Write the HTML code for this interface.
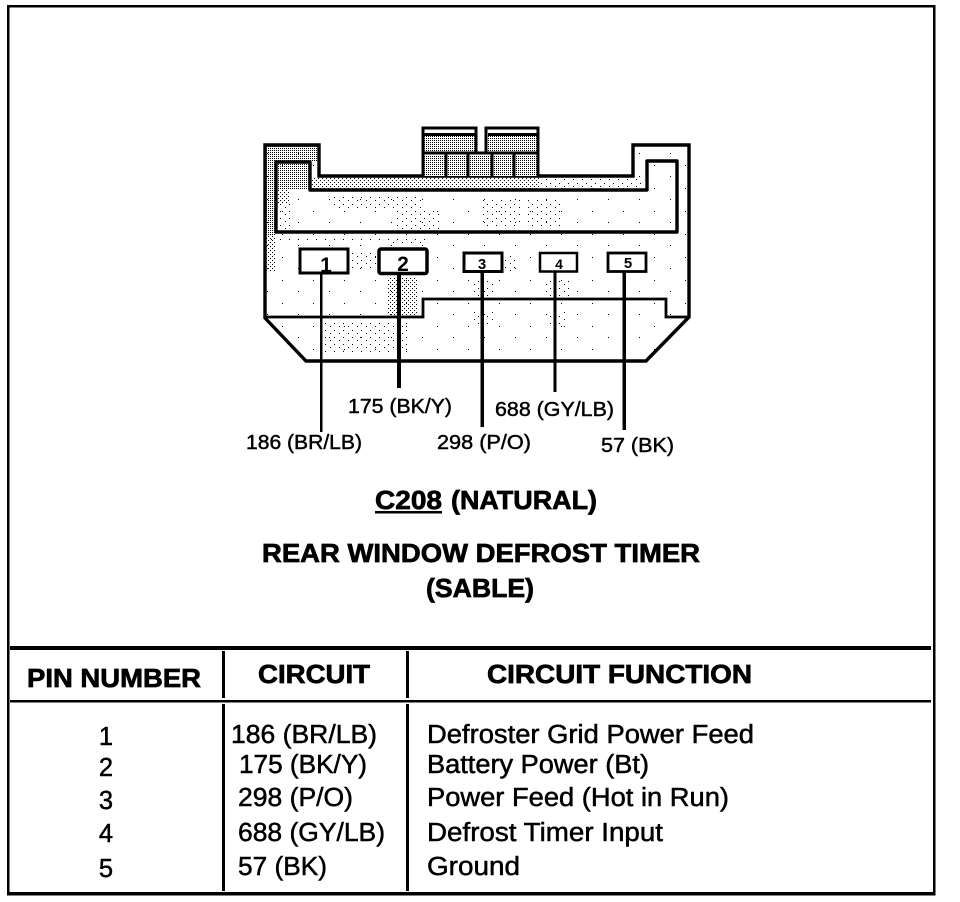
<!DOCTYPE html>
<html><head><meta charset="utf-8"><style>
html,body{margin:0;padding:0;background:#fff;width:960px;height:902px;overflow:hidden}
svg{display:block}
text{font-family:"Liberation Sans",sans-serif;fill:#000}
.l{font-size:20px;stroke:#000;stroke-width:.45px}
.t{font-size:25.5px;stroke:#000;stroke-width:.5px}
.b{font-size:26px;font-weight:bold;stroke:#000;stroke-width:.7px}
</style></head><body>
<svg width="960" height="902" viewBox="0 0 960 902" xmlns="http://www.w3.org/2000/svg">
<defs>
<pattern id="d" width="2" height="2" patternUnits="userSpaceOnUse"><rect width="1" height="1" fill="#000" shape-rendering="crispEdges"/></pattern>
<pattern id="m" width="4" height="4" patternUnits="userSpaceOnUse"><rect width="1" height="1" fill="#000" shape-rendering="crispEdges"/><rect x="2" y="2" width="1" height="1" fill="#000" shape-rendering="crispEdges"/></pattern>
<pattern id="x" width="9" height="7" patternUnits="userSpaceOnUse"><rect x="1" y="1" width="1" height="1" fill="#000" shape-rendering="crispEdges"/><rect x="6" y="4" width="1" height="1" fill="#000" shape-rendering="crispEdges"/></pattern>
<pattern id="s" width="31" height="23" patternUnits="userSpaceOnUse"><rect x="3" y="4" width="1" height="1" fill="#000" shape-rendering="crispEdges"/><rect x="19" y="15" width="1" height="1" fill="#000" shape-rendering="crispEdges"/></pattern>
</defs>
<rect width="960" height="902" fill="#fff"/>
<g shape-rendering="crispEdges">
<rect x="8" y="6" width="926" height="888" fill="none" stroke="#000" stroke-width="2.5"/>
<rect x="7" y="892" width="927" height="3" fill="#000"/>
<rect x="10" y="646" width="921" height="4" fill="#000"/>
<rect x="10" y="700" width="921" height="2.5" fill="#000"/>
<rect x="222" y="651" width="3" height="47" fill="#000"/>
<rect x="222" y="704" width="3" height="187" fill="#000"/>
<rect x="406" y="651" width="3" height="47" fill="#000"/>
<rect x="406" y="704" width="3" height="187" fill="#000"/>
</g>
<!-- connector shading -->
<path d="M264 144H319V176H633V144H690V317L647 361H306L264 317Z" fill="url(#s)"/>
<rect x="266" y="146" width="52" height="16" fill="url(#d)"/>
<rect x="266" y="162" width="10" height="74" fill="url(#d)"/>
<rect x="266" y="236" width="10" height="36" fill="url(#m)"/>
<rect x="278" y="164" width="31" height="26" fill="url(#d)"/>
<rect x="278" y="190" width="12" height="14" fill="url(#m)"/>
<rect x="278" y="204" width="12" height="26" fill="url(#x)"/>
<rect x="310" y="178" width="230" height="11" fill="url(#m)"/>
<rect x="540" y="178" width="105" height="11" fill="url(#x)"/>
<rect x="332" y="196" width="90" height="12" fill="url(#x)"/>
<rect x="395" y="208" width="45" height="22" fill="url(#x)"/>
<rect x="480" y="198" width="40" height="30" fill="url(#x)"/>
<rect x="525" y="200" width="35" height="28" fill="url(#x)"/>
<rect x="270" y="236" width="130" height="6" fill="url(#x)"/>
<rect x="385" y="236" width="40" height="10" fill="url(#x)"/>
<rect x="352" y="250" width="25" height="20" fill="url(#x)"/>
<rect x="503" y="255" width="12" height="18" fill="url(#x)"/>
<rect x="388" y="277" width="30" height="38" fill="url(#m)"/>
<rect x="470" y="278" width="24" height="20" fill="url(#x)"/>
<rect x="545" y="278" width="24" height="20" fill="url(#x)"/>
<rect x="320" y="322" width="90" height="30" fill="url(#x)"/>
<rect x="470" y="310" width="24" height="14" fill="url(#x)"/>
<rect x="548" y="310" width="18" height="20" fill="url(#x)"/>
<!-- connector lines -->
<g fill="none" stroke="#000">
<path d="M265 145H319V176H633V145H689V317L646 361H306L265 318Z" stroke-width="3.4"/>
<path d="M276 162H310V190H647V161H677V232H276Z" stroke-width="3.4" stroke-linejoin="round"/>
<path d="M265 317H423V299H666V317H689" stroke-width="2.8"/>
</g>
<!-- top tabs -->
<rect x="423" y="127" width="53" height="49" fill="#fff"/>
<rect x="487" y="127" width="52" height="49" fill="#fff"/>
<rect x="423" y="153" width="115" height="23" fill="#fff"/>
<rect x="424" y="136" width="52" height="17" fill="url(#d)"/>
<rect x="488" y="136" width="50" height="17" fill="url(#d)"/>
<rect x="424" y="155" width="115" height="21" fill="url(#d)"/>
<g fill="none" stroke="#000" stroke-width="3" shape-rendering="crispEdges">
<path d="M423 176V128H476V153"/>
<path d="M486 153V128H538V176"/>
<path d="M423 153H538"/>
<path d="M424 134.500H475M488 134.500H537"/>
<path d="M446 153V176M468 153V176M492 153V176M514 153V176"/>
</g>
<!-- pins -->
<g fill="#fff" stroke="#000">
<rect x="300" y="249" width="48" height="24" stroke-width="3"/>
<rect x="379" y="249" width="48" height="24.500" rx="2" stroke-width="3.500"/>
<rect x="464" y="253" width="38" height="18.500" stroke-width="3"/>
<rect x="540" y="253" width="37" height="18.500" stroke-width="2.500"/>
<rect x="608" y="253" width="38" height="18.500" stroke-width="2.800"/>
</g>
<g shape-rendering="crispEdges" fill="#000">
<rect x="320" y="273" width="2.500" height="159"/>
<rect x="397" y="274" width="4" height="114"/>
<rect x="480.500" y="272" width="3.500" height="155"/>
<rect x="553.500" y="272" width="2.800" height="120"/>
<rect x="622.500" y="272" width="3.500" height="158"/>
</g>
<g text-anchor="middle" font-weight="bold">
<text x="326" y="272" font-size="21">1</text>
<text x="403" y="271" font-size="21">2</text>
<text x="482" y="269" font-size="15">3</text>
<text x="559" y="269" font-size="14">4</text>
<text x="628" y="268" font-size="15">5</text>
</g>
<!-- wire labels -->
<text class="l" x="348" y="413" textLength="104" lengthAdjust="spacingAndGlyphs">175 (BK/Y)</text>
<text class="l" x="495" y="416" textLength="119" lengthAdjust="spacingAndGlyphs">688 (GY/LB)</text>
<text class="l" x="246" y="449" textLength="116" lengthAdjust="spacingAndGlyphs">186 (BR/LB)</text>
<text class="l" x="437" y="449" textLength="94" lengthAdjust="spacingAndGlyphs">298 (P/O)</text>
<text class="l" x="601" y="452" textLength="73" lengthAdjust="spacingAndGlyphs">57 (BK)</text>
<!-- titles -->
<text class="b" x="375" y="509" textLength="67" lengthAdjust="spacingAndGlyphs">C208</text>
<rect x="375" y="511" width="67" height="2.500" fill="#000"/>
<text class="b" x="451" y="509" textLength="146" lengthAdjust="spacingAndGlyphs">(NATURAL)</text>
<text class="b" x="262" y="562" textLength="438" lengthAdjust="spacingAndGlyphs">REAR WINDOW DEFROST TIMER</text>
<text class="b" x="426" y="597" textLength="108" lengthAdjust="spacingAndGlyphs">(SABLE)</text>
<!-- table header -->
<text class="b" x="27" y="687" textLength="174" lengthAdjust="spacingAndGlyphs">PIN NUMBER</text>
<text class="b" x="258" y="683" textLength="112" lengthAdjust="spacingAndGlyphs">CIRCUIT</text>
<text class="b" x="487" y="683" textLength="265" lengthAdjust="spacingAndGlyphs">CIRCUIT FUNCTION</text>
<!-- table body -->
<g text-anchor="middle">
<text class="t" x="106" y="745">1</text>
<text class="t" x="106" y="776">2</text>
<text class="t" x="106" y="809">3</text>
<text class="t" x="106" y="842">4</text>
<text class="t" x="106" y="877">5</text>
</g>
<text class="t" x="231" y="743" textLength="146" lengthAdjust="spacingAndGlyphs">186 (BR/LB)</text>
<text class="t" x="239" y="773" textLength="128" lengthAdjust="spacingAndGlyphs">175 (BK/Y)</text>
<text class="t" x="238" y="806" textLength="115" lengthAdjust="spacingAndGlyphs">298 (P/O)</text>
<text class="t" x="238" y="841" textLength="147" lengthAdjust="spacingAndGlyphs">688 (GY/LB)</text>
<text class="t" x="238" y="875" textLength="89" lengthAdjust="spacingAndGlyphs">57 (BK)</text>
<text class="t" x="427" y="743" textLength="327" lengthAdjust="spacingAndGlyphs">Defroster Grid Power Feed</text>
<text class="t" x="427" y="773" textLength="222" lengthAdjust="spacingAndGlyphs">Battery Power (Bt)</text>
<text class="t" x="427" y="806" textLength="302" lengthAdjust="spacingAndGlyphs">Power Feed (Hot in Run)</text>
<text class="t" x="427" y="841" textLength="236" lengthAdjust="spacingAndGlyphs">Defrost Timer Input</text>
<text class="t" x="427" y="875" textLength="93" lengthAdjust="spacingAndGlyphs">Ground</text>
</svg>
</body></html>
